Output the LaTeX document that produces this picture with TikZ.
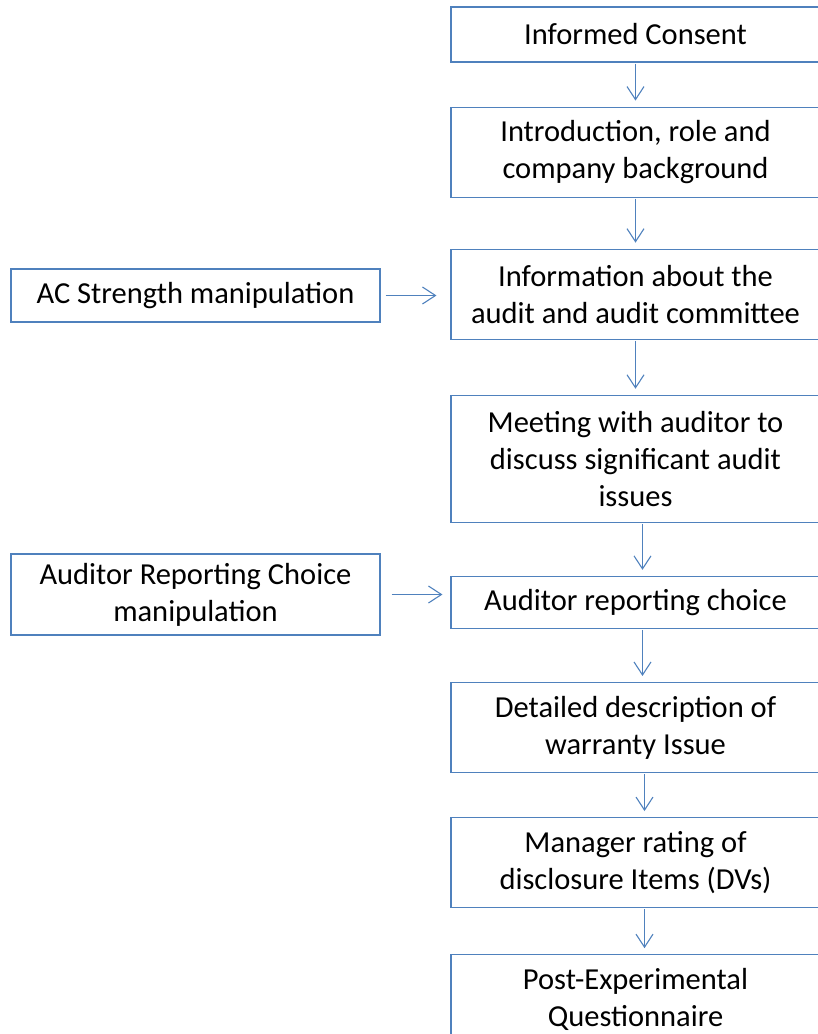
\documentclass[tikz,border=0pt]{standalone}
\usepackage{fontspec}
\setmainfont{Carlito}
\usetikzlibrary{arrows.meta, positioning}
\definecolor{boxblue}{HTML}{4F81BD}

\begin{document}
\begin{tikzpicture}[x=1pt,y=-1pt,->,>={Straight Barb[length=13pt,width=17pt]},
  shorten >=6pt,shorten <=1pt,line width=1.1pt,
  main box/.style={rectangle,draw=boxblue,inner sep=0pt,minimum width=369pt,
    align=center,text=black,font=\fontsize{30.5}{37}\selectfont}]
  \useasboundingbox (0,0) rectangle (818,1034);
  \clip (0,0) rectangle (818,1034);
  \node[main box,minimum height=55pt] (consent) at (635.5,34.5) {Informed Consent};
  \node[main box,minimum height=90pt] (intro) [below=44pt of consent] {Introduction, role and\\company background};
  \node[main box,minimum height=90pt] (info) [below=51pt of intro] {Information about the\\audit and audit committee};
  \node[main box,minimum height=127pt] (meeting) [below=55pt of info] {Meeting with auditor to\\discuss significant audit\\issues};
  \node[main box,minimum height=52pt] (choice) [below=53pt of meeting] {Auditor reporting choice};
  \node[main box,minimum height=90pt] (warranty) [below=53pt of choice] {Detailed description of\\warranty Issue};
  \node[main box,minimum height=90pt] (rating) [below=44pt of warranty] {Manager rating of\\disclosure Items (DVs)};
  \node[main box,minimum height=90pt] (pex) [below=46pt of rating] {Post-Experimental\\Questionnaire};
  \node[main box,minimum height=53pt] (acs) at (195.5,295.5) {AC Strength manipulation};
  \node[main box,minimum height=81pt] (arc) at (195.5,594.5) {Auditor Reporting Choice\\manipulation};
  \path[color=boxblue]
    (consent) edge (intro)
    (intro) edge (info)
    (info) edge (meeting)
    ([xshift=7pt]meeting.south) edge ([xshift=7pt]choice.north)
    ([xshift=7pt]choice.south) edge ([xshift=7pt]warranty.north)
    ([xshift=9pt]warranty.south) edge ([xshift=9pt]rating.north)
    ([xshift=9pt]rating.south) edge ([xshift=9pt]pex.north)
    (acs.east) edge[shorten <=5pt,shorten >=14pt] (acs.east -| info.west)
    (arc.east) edge[shorten <=11pt,shorten >=8pt] (arc.east -| choice.west);
\end{tikzpicture}
\end{document}
